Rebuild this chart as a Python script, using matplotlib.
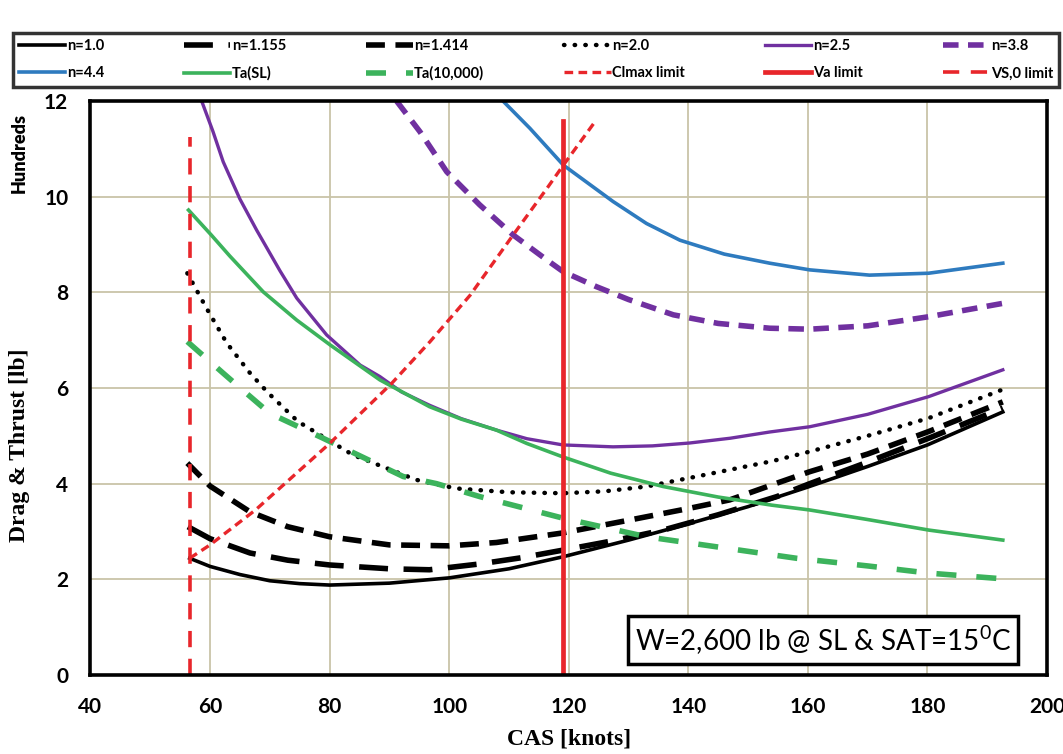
import matplotlib
matplotlib.use("Agg")
import matplotlib.pyplot as plt

# === Data (drag & thrust in hundreds of lb vs CAS in knots) ===
n1_x = [56.6, 60, 65, 70, 75, 80, 90, 100, 110, 119, 130, 140, 150, 160, 170, 180, 192.6]
n1_y = [2.44, 2.27, 2.10, 1.97, 1.91, 1.88, 1.92, 2.03, 2.22, 2.47, 2.82, 3.16, 3.52, 3.93, 4.36, 4.81, 5.50]

n1155_x = [56.3, 60, 66.7, 73, 80, 90, 96.7, 105, 112, 119, 128, 135.8, 145, 154.8, 160.3, 170, 180.2, 192.6]
n1155_y = [3.10, 2.85, 2.55, 2.40, 2.30, 2.22, 2.20, 2.32, 2.45, 2.61, 2.82, 3.03, 3.35, 3.73, 4.00, 4.45, 4.95, 5.58]

n1414_x = [56.2, 60, 66.7, 73, 80, 90, 100, 107.9, 119, 130.2, 140, 146.9, 154.8, 160.3, 170, 180.2, 192.6]
n1414_y = [4.43, 3.95, 3.41, 3.10, 2.89, 2.72, 2.70, 2.77, 2.97, 3.24, 3.48, 3.66, 4.01, 4.25, 4.62, 5.09, 5.71]

n20_x = [56.2, 59.4, 62.8, 66.7, 69.7, 74.7, 83.9, 94.5, 101.2, 110, 119, 126, 133, 141.4, 154, 160.3, 170, 180.2, 192.4]
n20_y = [8.40, 7.67, 6.94, 6.31, 5.90, 5.30, 4.60, 4.08, 3.90, 3.82, 3.80, 3.84, 3.94, 4.15, 4.47, 4.67, 5.00, 5.37, 5.96]

n25_x = [58.6, 60.5, 62.2, 65, 67.8, 71.7, 74.5, 79.5, 85.1, 88.4, 92, 96.7, 102, 107.9, 113, 119,
         127.4, 134, 140.2, 147, 153.6, 160.3, 170, 180.2, 192.6]
n25_y = [12.0, 11.36, 10.73, 9.95, 9.30, 8.45, 7.88, 7.11, 6.48, 6.24, 5.92, 5.64, 5.36, 5.12, 4.94, 4.81,
         4.77, 4.79, 4.85, 4.95, 5.08, 5.19, 5.45, 5.82, 6.38]

n38_x = [91.2, 95.1, 99.6, 105.1, 110.7, 116.3, 119.1, 124.6, 130, 137.5, 145, 153.6, 160.3, 170, 180.2, 192.6]
n38_y = [12.0, 11.36, 10.52, 9.83, 9.20, 8.68, 8.43, 8.12, 7.85, 7.53, 7.35, 7.25, 7.23, 7.30, 7.49, 7.77]

n44_x = [109, 113.5, 119.1, 127.4, 133, 138.6, 146, 153.6, 160.3, 170.3, 180.2, 192.6]
n44_y = [12.0, 11.43, 10.66, 9.90, 9.44, 9.09, 8.80, 8.61, 8.47, 8.36, 8.40, 8.61]

ta_sl_x = [56.4, 60.2, 63.3, 68.9, 74.5, 80.1, 88.4, 96.7, 102, 107.9, 113, 119, 127, 135.8, 145, 154,
           160.3, 170, 180.2, 192.6]
ta_sl_y = [9.72, 9.20, 8.76, 8.01, 7.42, 6.90, 6.17, 5.61, 5.35, 5.12, 4.84, 4.56, 4.22, 3.94, 3.72, 3.55,
           3.45, 3.25, 3.03, 2.82]

ta_10k_x = [56.2, 62.2, 64.5, 70, 78.4, 92.3, 97.9, 105.1, 119, 133, 152.5, 158.1, 170, 180.2, 191.6]
ta_10k_y = [6.97, 6.31, 6.06, 5.47, 4.98, 4.15, 4.00, 3.73, 3.28, 2.89, 2.54, 2.44, 2.28, 2.13, 2.02]

clmax_x = [56.6, 60, 67.6, 80, 90.4, 96.8, 103.5, 110.7, 116.5, 119.1, 124.4]
clmax_y = [2.44, 2.72, 3.45, 4.84, 6.10, 6.97, 7.94, 9.20, 10.2, 10.66, 11.57]

va_x = [119, 119]
va_y = [0, 11.58]

vs0_x = [56.6, 56.6]
vs0_y = [0, 11.25]

xticks = [40, 60, 80, 100, 120, 140, 160, 180, 200]
yticks = [0, 2, 4, 6, 8, 10, 12]

# === Styles ===
PURPLE = "#7030a0"
BLUE = "#2e7bbf"
GREEN = "#3cb35c"
RED = "#e8262b"
TICKFONT = ["Lato", "DejaVu Sans"]
SERIF = ["Liberation Serif", "DejaVu Serif"]

fig = plt.figure(figsize=(10.63, 7.54), dpi=100)
ax = fig.add_axes([0.0851, 0.1048, 0.8999, 0.7612])

ax.plot(n1_x, n1_y, color="black", lw=2.6, label="n=1.0")
ax.plot(n1155_x, n1155_y, color="black", lw=4, ls=(0, (5.2, 2.8)), label="n=1.155")
ax.plot(n1414_x, n1414_y, color="black", lw=4, ls=(0, (3.4, 1.9)), label="n=1.414")
ax.plot(n20_x, n20_y, color="black", lw=3.2, ls=(0, (0.1, 2.3)), dash_capstyle="round", label="n=2.0")
ax.plot(n25_x, n25_y, color=PURPLE, lw=2.4, label="n=2.5")
ax.plot(n38_x, n38_y, color=PURPLE, lw=4, ls=(0, (2.8, 1.7)), label="n=3.8")
ax.plot(n44_x, n44_y, color=BLUE, lw=2.6, label="n=4.4")
ax.plot(ta_sl_x, ta_sl_y, color=GREEN, lw=2.6, label="Ta(SL)")
ax.plot(ta_10k_x, ta_10k_y, color=GREEN, lw=4, ls=(0, (3.6, 3.6)), label="Ta(10,000)")
ax.plot(clmax_x, clmax_y, color=RED, lw=2.4, ls=(0, (2.6, 1.6)), label="Clmax limit")
ax.plot(va_x, va_y, color=RED, lw=3.4, label="Va limit")
ax.plot(vs0_x, vs0_y, color=RED, lw=2.6, ls=(0, (4.5, 3.2)), label="VS,0 limit")

ax.set_xlim(40, 200)
ax.set_ylim(0, 12)
ax.set_xticks(xticks)
ax.set_yticks(yticks)
ax.grid(True, color="#c9c4a8", lw=1.3)
ax.set_axisbelow(True)
ax.tick_params(axis="x", length=0, pad=16)
ax.tick_params(axis="y", length=0, pad=16)
for lab in ax.get_xticklabels() + ax.get_yticklabels():
    lab.set_family(TICKFONT)
    lab.set_fontweight("bold")
    lab.set_fontsize(15)
for sp in ax.spines.values():
    sp.set_linewidth(2.6)
    sp.set_color("black")

ax.set_xlabel("CAS [knots]", family=SERIF, fontweight="bold", fontsize=17, labelpad=8)
fig.text(0.018, 0.41, "Drag & Thrust [lb]", rotation=90, ha="center", va="center",
         family=SERIF, fontweight="bold", fontsize=17)
fig.text(0.018, 0.797, "Hundreds", rotation=90, ha="center", va="center",
         family=TICKFONT, fontweight="heavy", fontsize=13)

ax.text(162.5, 0.73, "W=2,600 lb @ SL & SAT=15$^\\mathregular{0}$C", ha="center", va="center",
        family=TICKFONT, fontsize=20,
        bbox=dict(boxstyle="square,pad=0.25", fc="white", ec="black", lw=2.5))

# === Legend (row-wise order) ===
handles, labels = ax.get_legend_handles_labels()
order = []
for c in range(6):
    order += [c, c + 6]
leg = fig.legend([handles[i] for i in order], [labels[i] for i in order],
                 ncol=6, loc="lower left", bbox_to_anchor=(0.012, 0.885, 0.984, 0.098),
                 mode="expand", frameon=True, fancybox=False, edgecolor="black",
                 handlelength=3.2, handletextpad=0.1, borderaxespad=0.0,
                 labelspacing=0.9, prop={"family": TICKFONT, "size": 10.5, "weight": "bold"})
leg.get_frame().set_linewidth(2.5)

fig.savefig("out.png", dpi=100)
